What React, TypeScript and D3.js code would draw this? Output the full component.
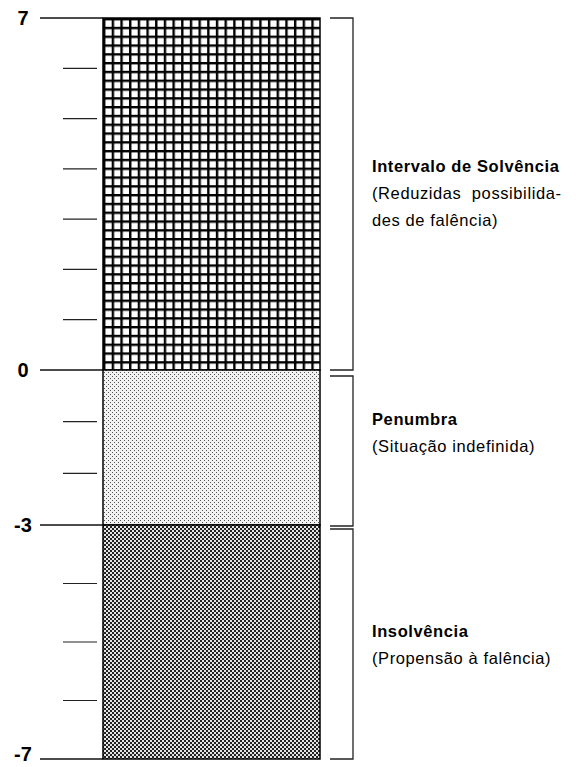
import * as d3 from "d3";
import React from "react";

// zone limits (score scale) and labels
const zoneBounds = [7, 0, -3, -7];
const zoneNames = ["Intervalo de Solvência", "Penumbra", "Insolvência"];
const zoneNotes = [
  ["(Reduzidas  possibilida-", "des de falência)"],
  ["(Situação indefinida)"],
  ["(Propensão à falência)"],
];
const majorTicks = [7, 0, -3, -7];
const minorTicks = [6, 5, 4, 3, 2, 1, -1, -2, -4, -5, -6];

const W = 576;
const H = 767;

export default function App() {
  // each zone has its own stretch in the original, so the scale is piecewise
  const y = d3.scaleLinear().domain(zoneBounds).range([18, 370, 525, 759]);
  const barX0 = 103;
  const barX1 = 320;
  const fills = ["url(#grid)", "url(#dotsLight)", "url(#dotsDark)"];

  const zones = zoneNames.map((name, i) => ({
    name,
    notes: zoneNotes[i],
    top: zoneBounds[i],
    bottom: zoneBounds[i + 1],
  }));

  const font = "'Liberation Sans', Arial, Helvetica, sans-serif";

  return (
    <svg width={W} height={H} style={{ position: "absolute", left: 0, top: 0, background: "#fff" }}>
      <defs>
        <pattern id="grid" patternUnits="userSpaceOnUse" x={barX0} y={18} width={8.68} height={8.8}>
          <rect width={8.68} height={8.8} fill="#fff" />
          <rect x={0} y={0} width={2.4} height={8.8} fill="#000" />
          <rect x={0} y={0} width={8.68} height={2.4} fill="#000" />
        </pattern>
        <pattern id="dotsLight" patternUnits="userSpaceOnUse" width={4} height={4}>
          <rect width={4} height={4} fill="#f2f2f2" />
          <rect x={0} y={0} width={1} height={1} fill="#555" />
          <rect x={2} y={2} width={1} height={1} fill="#555" />
        </pattern>
        <pattern id="dotsDark" patternUnits="userSpaceOnUse" width={4} height={4}>
          <rect width={4} height={4} fill="#e4e4e4" />
          <rect x={0} y={0} width={2} height={2} fill="#222" />
          <rect x={2} y={2} width={2} height={2} fill="#222" />
        </pattern>
      </defs>

      {/* zone bars */}
      {zones.map((z, i) => (
        <rect
          key={"bar" + i}
          x={barX0}
          y={y(z.top)}
          width={barX1 - barX0}
          height={y(z.bottom) - y(z.top)}
          fill={fills[i]}
          stroke="#000"
          strokeWidth={1.5}
        />
      ))}

      {/* major ticks with labels */}
      {majorTicks.map((t, i) => (
        <g key={"maj" + t}>
          <line x1={40} x2={barX0} y1={y(t)} y2={y(t)} stroke="#111" strokeWidth={1.3} />
          <text
            x={23}
            y={y(t) - (i === majorTicks.length - 1 ? 5 : 0)}
            dy="0.36em"
            textAnchor="middle"
            fontFamily={font}
            fontWeight="bold"
            fontSize={20}
            fill="#000"
          >
            {t}
          </text>
        </g>
      ))}

      {/* minor ticks */}
      {minorTicks.map((t) => (
        <line key={"min" + t} x1={63} x2={97} y1={y(t)} y2={y(t)} stroke="#222" strokeWidth={1.2} />
      ))}

      {/* brackets */}
      {zones.map((z, i) => {
        const y0 = y(z.top) + (i === 0 ? 0 : i === 1 ? 6 : 4);
        const y1 = y(z.bottom) + (i === 1 ? 1 : 0);
        return (
          <path
            key={"br" + i}
            d={`M330,${y0}H353V${y1}H330`}
            fill="none"
            stroke="#222"
            strokeWidth={1.3}
          />
        );
      })}

      {/* zone labels */}
      {zones.map((z, i) => {
        const base = i === 0 ? 172 : i === 1 ? 425 : 637;
        return (
          <g key={"lab" + i} fontFamily={font} fontSize={16.5} letterSpacing={0.6} fill="#000">
            <text x={372} y={base} fontWeight="bold">
              {z.name}
            </text>
            {z.notes.map((n, j) => (
              <text key={j} x={372} y={base + 27 * (j + 1)} style={{ whiteSpace: "pre" }}>
                {n}
              </text>
            ))}
          </g>
        );
      })}
    </svg>
  );
}
